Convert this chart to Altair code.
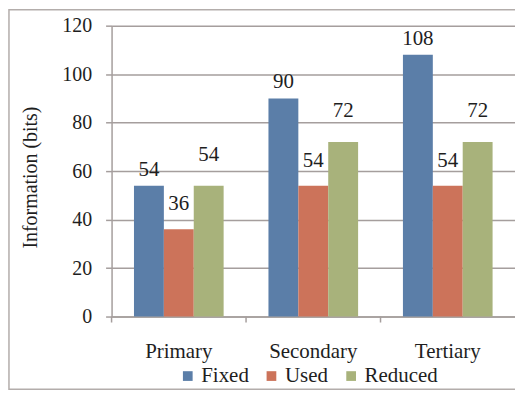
import altair as alt
import pandas as pd

levels = ["Primary", "Secondary", "Tertiary"]
series = ["Fixed", "Used", "Reduced"]
fixed_bits = [54, 90, 108]
used_bits = [36, 54, 54]
reduced_bits = [54, 72, 72]
series_colors = ["#5b7ea8", "#cc735a", "#a8b27b"]
y_ticks = [0, 20, 40, 60, 80, 100, 120]

rows = []
for name, values in zip(series, [fixed_bits, used_bits, reduced_bits]):
    for level, v in zip(levels, values):
        rows.append({"level": level, "series": name, "bits": v})
df = pd.DataFrame(rows)

FONT = "Liberation Serif"
INK = "#1e1e1e"
GRID = "#a59e9d"

x_enc = alt.X(
    "level:N",
    sort=levels,
    scale=alt.Scale(paddingInner=0, paddingOuter=0),
    axis=alt.Axis(
        title=None,
        labelAngle=0,
        labelFont=FONT,
        labelFontSize=21,
        labelColor=INK,
        labelPadding=24,
        ticks=False,
        domainColor=GRID,
        domainWidth=1.5,
    ),
)
xo_enc = alt.XOffset(
    "series:N", sort=series, scale=alt.Scale(paddingInner=0, paddingOuter=0.75)
)
y_enc = alt.Y(
    "bits:Q",
    scale=alt.Scale(domain=[0, 120], nice=False),
    axis=alt.Axis(
        values=y_ticks,
        title="Information (bits)",
        titleFont=FONT,
        titleFontSize=20,
        titleFontWeight="normal",
        titleColor=INK,
        titleAngle=270,
        titleAlign="center",
        titleBaseline="bottom",
        titleX=-71,
        titleY=152,
        labelFont=FONT,
        labelFontSize=20,
        labelColor=INK,
        labelPadding=14,
        tickColor=GRID,
        tickWidth=1.5,
        tickSize=6,
        domainColor=GRID,
        domainWidth=1.5,
        gridColor=GRID,
        gridWidth=1.5,
    ),
)

base = alt.Chart(df)

bars = base.mark_bar(size=30).encode(
    x=x_enc,
    xOffset=xo_enc,
    y=y_enc,
    color=alt.Color(
        "series:N",
        sort=series,
        scale=alt.Scale(domain=series, range=series_colors),
        legend=alt.Legend(
            title=None,
            orient="none",
            direction="horizontal",
            legendX=66,
            legendY=341,
            symbolType="square",
            symbolSize=95,
            symbolStrokeWidth=0,
            labelFont=FONT,
            labelFontSize=21,
            labelColor=INK,
            labelOffset=3,
            columnPadding=12,
        ),
    ),
)

label_lift = {"Fixed": -10, "Used": -19, "Reduced": -25}
labels = [
    base.transform_filter(alt.datum.series == name)
    .mark_text(font=FONT, fontSize=21, color=INK, baseline="alphabetic", dy=lift)
    .encode(x=x_enc, xOffset=xo_enc, y=y_enc, text="bits:Q")
    for name, lift in label_lift.items()
]

# small category separators hanging below the x axis
separators = alt.Chart(pd.DataFrame({"level": levels})).mark_rule(
    color=GRID, strokeWidth=1.5
).encode(
    x=alt.X("level:N", sort=levels, bandPosition=0),
    y=alt.value(292),
    y2=alt.value(298),
)

# outer frame around the whole figure
frame = alt.Chart(pd.DataFrame({"f": [0]})).mark_rect(
    fill=None, stroke="#b3adab", strokeWidth=1.5, clip=False
).encode(
    x=alt.value(-103), x2=alt.value(420), y=alt.value(-16), y2=alt.value(365)
)

chart = (
    alt.layer(frame, bars, separators, *labels)
    .properties(
        width=405,
        height=292,
        autosize=alt.AutoSizeParams(type="none"),
        padding={"left": 112, "top": 25, "right": 0, "bottom": 78},
        background="white",
    )
    .configure_view(stroke=None)
)

chart.save("out.html", embed_options={"renderer": "svg", "actions": False})
